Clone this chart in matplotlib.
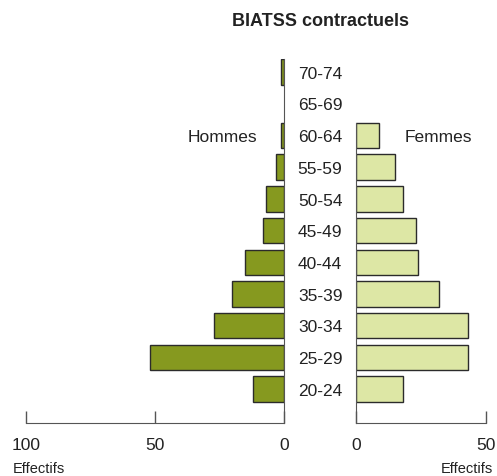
import matplotlib
matplotlib.use("Agg")
import matplotlib.pyplot as plt
import numpy as np

plt.rcParams['font.family'] = ['Liberation Sans', 'DejaVu Sans']

ages = ["20-24", "25-29", "30-34", "35-39", "40-44", "45-49",
        "50-54", "55-59", "60-64", "65-69", "70-74"]
hommes = [12, 52, 27, 20, 15, 8, 7, 3, 1, 0, 1]
femmes = [18, 43, 43, 32, 24, 23, 18, 15, 9, 0, 0]
left_ticks = [100, 50, 0]
right_ticks = [0, 50]

W, H = 497, 477
fig = plt.figure(figsize=(W / 100, H / 100), dpi=100)

y = np.arange(len(ages))
ylo, yhi = -1.07, len(ages) - 1 + 0.4
ax_bottom_px = 424
ax_h_px = 424 - 60.3

axL = fig.add_axes([26 / W, (H - ax_bottom_px) / H, 258 / W, ax_h_px / H])
axR = fig.add_axes([356 / W, (H - ax_bottom_px) / H, 130 / W, ax_h_px / H])

men_c = "#86991f"
wom_c = "#dde7a5"
edge = "#2b2b2b"
spine_c = "#555555"
txt_c = "#222222"

hm = np.array(hommes)
fm = np.array(femmes)
axL.barh(y[hm > 0], hm[hm > 0], height=0.8, color=men_c, edgecolor=edge, linewidth=1)
axR.barh(y[fm > 0], fm[fm > 0], height=0.8, color=wom_c, edgecolor=edge, linewidth=1)

axL.set_xlim(100, 0)
axR.set_xlim(0, 50)
for ax in (axL, axR):
    ax.set_ylim(ylo, yhi)
    ax.set_yticks([])
    ax.spines['top'].set_visible(False)
    ax.tick_params(axis='x', direction='in', length=9, width=1, color=spine_c,
                   labelsize=12.5, pad=10, labelcolor=txt_c)
    ax.spines['bottom'].set_color(spine_c)
    ax.patch.set_alpha(0)

axL.spines['left'].set_visible(False)
axL.spines['right'].set_color(spine_c)
axL.set_xticks(left_ticks)
axL.set_xticklabels([str(t) for t in left_ticks])

axR.spines['right'].set_visible(False)
axR.spines['left'].set_color(spine_c)
axR.spines['left'].set_bounds(ylo, 8.4)
axR.set_xticks(right_ticks)
axR.set_xticklabels([str(t) for t in right_ticks])

# age labels between the two halves
for yi, lab in zip(y, ages):
    axL.text(1.14, yi - 0.04, lab, transform=axL.get_yaxis_transform(),
             ha='center', va='center', fontsize=12.5, color=txt_c)

axL.text(0.76, 7.96, "Hommes", transform=axL.get_yaxis_transform(),
         ha='center', va='center', fontsize=12.5, color=txt_c)
axR.text(0.63, 7.96, "Femmes", transform=axR.get_yaxis_transform(),
         ha='center', va='center', fontsize=12.5, color=txt_c)

fig.text(320 / W, 1 - 22 / H, "BIATSS contractuels", ha='center', va='center',
         fontsize=13, fontweight='bold', color=txt_c)
fig.text(13 / W, 1 - 469 / H, "Effectifs", ha='left', va='center',
         fontsize=10.5, color=txt_c)
fig.text(493 / W, 1 - 469 / H, "Effectifs", ha='right', va='center',
         fontsize=10.5, color=txt_c)

fig.savefig("out.png", dpi=100)
